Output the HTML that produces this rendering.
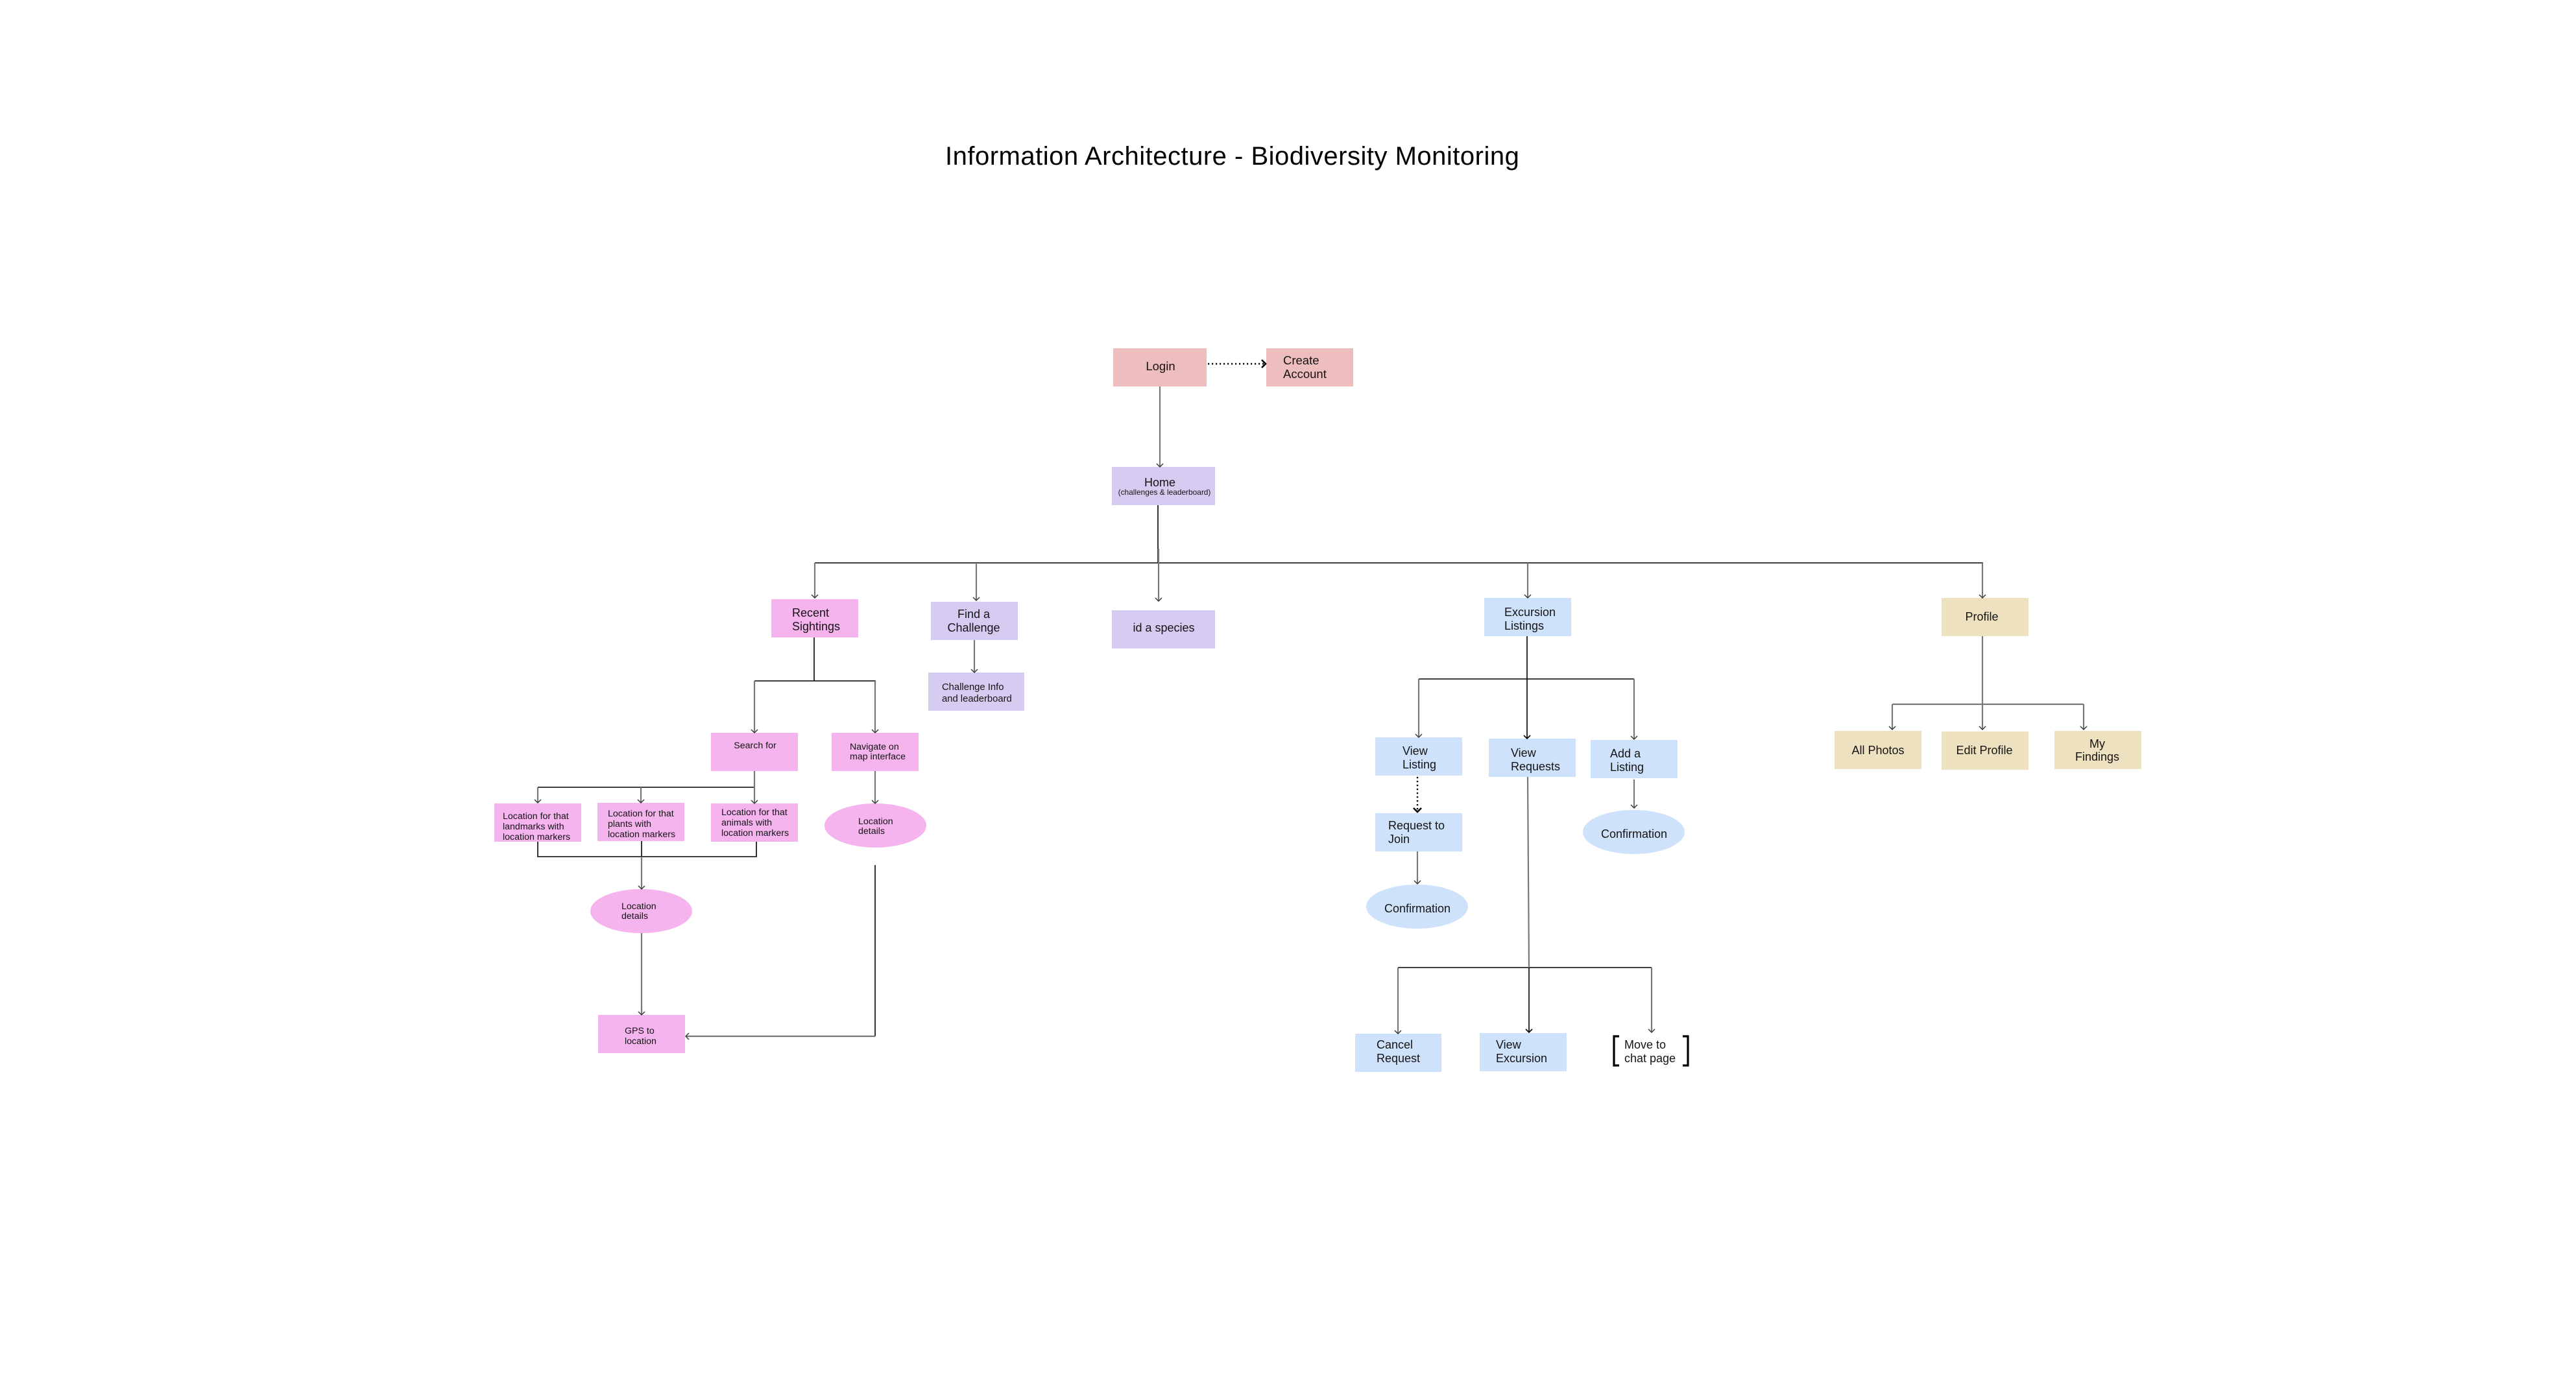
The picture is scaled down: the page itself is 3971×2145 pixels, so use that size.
<!DOCTYPE html>
<html>
<head>
<meta charset="utf-8">
<style>
  html, body { margin:0; padding:0; background:#ffffff; }
  body { width:3971px; height:2145px; overflow:hidden; }
  svg { display:block; }
  text { font-family: "Liberation Sans", Arial, sans-serif; fill:#141414; }
</style>
</head>
<body>
<svg width="3971" height="2145" viewBox="0 0 3971 2145" xmlns="http://www.w3.org/2000/svg">
  <rect x="0" y="0" width="3971" height="2145" fill="#ffffff"/>

  <!-- Title -->
  <text x="1457" y="254" font-size="40" letter-spacing="0.5" style="fill:#000">Information Architecture - Biodiversity Monitoring</text>

  <!-- ================= BOXES ================= -->
  <g>
    <rect x="1716" y="537" width="144" height="59" fill="#eebdbd"/>
    <rect x="1952" y="537" width="134" height="59" fill="#eebdbd"/>
    <rect x="1714" y="720" width="159" height="59" fill="#d6cbf1"/>

    <rect x="1189" y="924" width="134" height="59" fill="#f5b4ee"/>
    <rect x="1435" y="928" width="134" height="59" fill="#d6cbf1"/>
    <rect x="1431" y="1037" width="148" height="59" fill="#d6cbf1"/>
    <rect x="1714" y="941" width="159" height="59" fill="#d6cbf1"/>
    <rect x="2288" y="922" width="134" height="59" fill="#cfe2fb"/>
    <rect x="2993" y="922" width="134" height="59" fill="#eee1bf"/>

    <rect x="1096" y="1130" width="134" height="59" fill="#f5b4ee"/>
    <rect x="1282" y="1130" width="134" height="59" fill="#f5b4ee"/>
    <rect x="762" y="1239" width="134" height="59" fill="#f5b4ee"/>
    <rect x="921" y="1238" width="134" height="59" fill="#f5b4ee"/>
    <rect x="1096" y="1239" width="134" height="59" fill="#f5b4ee"/>
    <ellipse cx="1349.5" cy="1273" rx="78.5" ry="34" fill="#f5b4ee"/>
    <ellipse cx="988.5" cy="1405" rx="78.5" ry="34" fill="#f5b4ee"/>
    <rect x="922" y="1565" width="134" height="59" fill="#f5b4ee"/>

    <rect x="2120" y="1137" width="134" height="59" fill="#cfe2fb"/>
    <rect x="2295" y="1139" width="134" height="59" fill="#cfe2fb"/>
    <rect x="2452" y="1141" width="134" height="59" fill="#cfe2fb"/>
    <rect x="2120" y="1254" width="134" height="59" fill="#cfe2fb"/>
    <ellipse cx="2518.5" cy="1283" rx="78.5" ry="34" fill="#cfe2fb"/>
    <ellipse cx="2184.5" cy="1398" rx="78.5" ry="34" fill="#cfe2fb"/>
    <rect x="2089" y="1594" width="133" height="59" fill="#cfe2fb"/>
    <rect x="2281" y="1593" width="134" height="59" fill="#cfe2fb"/>

    <rect x="2828" y="1127" width="134" height="59" fill="#eee1bf"/>
    <rect x="2993" y="1128" width="134" height="59" fill="#eee1bf"/>
    <rect x="3167" y="1127" width="134" height="59" fill="#eee1bf"/>
  </g>

  <!-- ================= CONNECTORS ================= -->
  <!-- black thin lines -->
  <g stroke="#000" stroke-width="1.6" fill="none">
    <line x1="1785" y1="779" x2="1785" y2="868"/>
    <line x1="1256" y1="868" x2="3057" y2="868"/>
    <line x1="1255" y1="983" x2="1255" y2="1050"/>
    <line x1="1163" y1="1050" x2="1350" y2="1050"/>
    <line x1="829" y1="1214" x2="1164" y2="1214"/>
    <polyline points="829,1298 829,1321 1166,1321 1166,1298"/>
    <line x1="989" y1="1297" x2="989" y2="1321"/>
    <line x1="1349" y1="1334" x2="1349" y2="1598"/>
    <line x1="2354" y1="981" x2="2354" y2="1139"/>
    <line x1="2187" y1="1047" x2="2519" y2="1047"/>
    <line x1="2155" y1="1492" x2="2546" y2="1492"/>
    <line x1="2357" y1="1492" x2="2357" y2="1592"/>
    <!-- chevrons on black arrows -->
    <polyline points="2349,1134 2354,1139 2359,1134"/>
    <polyline points="2352,1587 2357,1592 2362,1587"/>
  </g>

  <!-- gray lines -->
  <g stroke="#777" stroke-width="2.2" fill="none">
    <line x1="1788" y1="596" x2="1788" y2="720"/>
    <line x1="1786" y1="846" x2="1786" y2="927"/>
    <line x1="1256" y1="868" x2="1256" y2="922"/>
    <line x1="1505" y1="868" x2="1505" y2="926"/>
    <line x1="2355" y1="868" x2="2355" y2="922"/>
    <line x1="3056" y1="868" x2="3056" y2="922"/>
    <line x1="1502" y1="987" x2="1502" y2="1037"/>
    <line x1="1163" y1="1050" x2="1163" y2="1130"/>
    <line x1="1349" y1="1050" x2="1349" y2="1130"/>
    <line x1="1163" y1="1189" x2="1163" y2="1239"/>
    <line x1="829" y1="1214" x2="829" y2="1238"/>
    <line x1="988" y1="1214" x2="988" y2="1238"/>
    <line x1="989" y1="1321" x2="989" y2="1371"/>
    <line x1="989" y1="1439" x2="989" y2="1565"/>
    <line x1="1349" y1="1189" x2="1349" y2="1239"/>
    <line x1="1349" y1="1598" x2="1057" y2="1598"/>
    <line x1="2187" y1="1047" x2="2187" y2="1137"/>
    <line x1="2519" y1="1047" x2="2519" y2="1140"/>
    <line x1="2185" y1="1313" x2="2185" y2="1363"/>
    <line x1="2519" y1="1202" x2="2519" y2="1246"/>
    <line x1="2355" y1="1198" x2="2357" y2="1492"/>
    <line x1="2155" y1="1492" x2="2155" y2="1594"/>
    <line x1="2546" y1="1492" x2="2546" y2="1592"/>
    <line x1="3056" y1="981" x2="3056" y2="1125"/>
    <line x1="2917" y1="1086" x2="3212" y2="1086"/>
    <line x1="2917" y1="1086" x2="2917" y2="1125"/>
    <line x1="3212" y1="1086" x2="3212" y2="1125"/>
  </g>

  <!-- small chevron arrowheads -->
  <g stroke="#333" stroke-width="1.4" fill="none">
    <polyline points="1783,715 1788,720 1793,715"/>
    <polyline points="1781,922 1786,927 1791,922"/>
    <polyline points="1251,917 1256,922 1261,917"/>
    <polyline points="1500,921 1505,926 1510,921"/>
    <polyline points="2350,917 2355,922 2360,917"/>
    <polyline points="3051,917 3056,922 3061,917"/>
    <polyline points="1497,1032 1502,1037 1507,1032"/>
    <polyline points="1158,1125 1163,1130 1168,1125"/>
    <polyline points="1344,1125 1349,1130 1354,1125"/>
    <polyline points="1158,1234 1163,1239 1168,1234"/>
    <polyline points="824,1233 829,1238 834,1233"/>
    <polyline points="983,1233 988,1238 993,1233"/>
    <polyline points="984,1366 989,1371 994,1366"/>
    <polyline points="984,1560 989,1565 994,1560"/>
    <polyline points="1344,1234 1349,1239 1354,1234"/>
    <polyline points="1062,1593 1057,1598 1062,1603"/>
    <polyline points="2182,1132 2187,1137 2192,1132"/>
    <polyline points="2514,1135 2519,1140 2524,1135"/>
    <polyline points="2180,1358 2185,1363 2190,1358"/>
    <polyline points="2514,1241 2519,1246 2524,1241"/>
    <polyline points="2150,1589 2155,1594 2160,1589"/>
    <polyline points="2541,1587 2546,1592 2551,1587"/>
    <polyline points="3051,1120 3056,1125 3061,1120"/>
    <polyline points="2912,1120 2917,1125 2922,1120"/>
    <polyline points="3207,1120 3212,1125 3217,1120"/>
  </g>

  <!-- dotted arrows -->
  <g stroke="#000" fill="none">
    <line x1="1862" y1="561" x2="1948" y2="561" stroke-width="2.4" stroke-dasharray="2.2 3.8"/>
    <polyline points="1945,555 1951,561 1945,567" stroke-width="2.6"/>
    <line x1="2185" y1="1198" x2="2185" y2="1249" stroke-width="2.4" stroke-dasharray="2.2 3.8"/>
    <polyline points="2179,1246 2185,1252 2191,1246" stroke-width="2.6"/>
  </g>

  <!-- brackets -->
  <g stroke="#000" stroke-width="3.2" fill="none">
    <polyline points="2496,1598 2488,1598 2488,1643 2496,1643"/>
    <polyline points="2594,1598 2602,1598 2602,1643 2594,1643"/>
  </g>

  <!-- ================= TEXT ================= -->
  <g font-size="18.5">
    <text x="1789" y="571" text-anchor="middle">Login</text>
    <text x="1978" y="562">Create</text>
    <text x="1978" y="583">Account</text>
  </g>
  <text x="1788" y="750" font-size="18" text-anchor="middle">Home</text>
  <text x="1795" y="763" font-size="11.9" text-anchor="middle">(challenges &amp; leaderboard)</text>

  <g font-size="18">
    <text x="1221" y="951">Recent</text>
    <text x="1221" y="972">Sightings</text>
    <text x="1501" y="953" text-anchor="middle">Find a</text>
    <text x="1501" y="974" text-anchor="middle">Challenge</text>
    <text x="1794" y="974" text-anchor="middle">id a species</text>
    <text x="2319" y="950">Excursion</text>
    <text x="2319" y="971">Listings</text>
    <text x="3055" y="957" text-anchor="middle">Profile</text>

    <text x="2162" y="1164">View</text>
    <text x="2162" y="1185">Listing</text>
    <text x="2329" y="1167">View</text>
    <text x="2329" y="1188">Requests</text>
    <text x="2482" y="1168">Add a</text>
    <text x="2482" y="1189">Listing</text>
    <text x="2140" y="1279">Request to</text>
    <text x="2140" y="1300">Join</text>
    <text x="2519" y="1292" text-anchor="middle">Confirmation</text>
    <text x="2185" y="1407" text-anchor="middle">Confirmation</text>
    <text x="2122" y="1617">Cancel</text>
    <text x="2122" y="1638">Request</text>
    <text x="2306" y="1617">View</text>
    <text x="2306" y="1638">Excursion</text>
    <text x="2504" y="1617">Move to</text>
    <text x="2504" y="1638">chat page</text>

    <text x="2895" y="1163" text-anchor="middle">All Photos</text>
    <text x="3059" y="1163" text-anchor="middle">Edit Profile</text>
    <text x="3233" y="1153" text-anchor="middle">My</text>
    <text x="3233" y="1173" text-anchor="middle">Findings</text>
  </g>

  <g font-size="14.8">
    <text x="1452" y="1064">Challenge Info</text>
    <text x="1452" y="1082">and leaderboard</text>
  </g>

  <g font-size="14.2">
    <text x="1164" y="1154" text-anchor="middle">Search for</text>
    <text x="1310" y="1156">Navigate on</text>
    <text x="1310" y="1171">map interface</text>

    <text x="775" y="1263">Location for that</text>
    <text x="775" y="1279">landmarks with</text>
    <text x="775" y="1295">location markers</text>

    <text x="937" y="1259">Location for that</text>
    <text x="937" y="1275">plants with</text>
    <text x="937" y="1291">location markers</text>

    <text x="1112" y="1257">Location for that</text>
    <text x="1112" y="1273">animals with</text>
    <text x="1112" y="1289">location markers</text>

    <text x="1323" y="1271">Location</text>
    <text x="1323" y="1286">details</text>

    <text x="958" y="1402">Location</text>
    <text x="958" y="1417">details</text>

    <text x="963" y="1594">GPS to</text>
    <text x="963" y="1610">location</text>
  </g>
</svg>
</body>
</html>
